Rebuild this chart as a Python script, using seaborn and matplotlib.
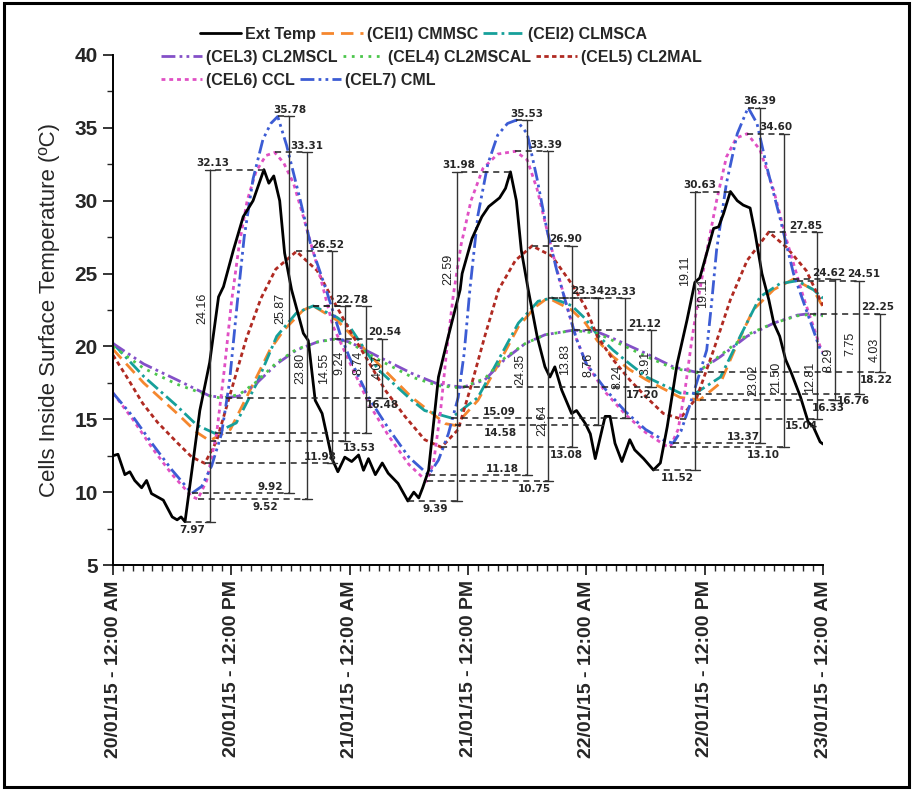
import matplotlib
matplotlib.use("Agg")
import matplotlib.pyplot as plt
from matplotlib.patches import Rectangle
from matplotlib.ticker import MultipleLocator
import numpy as np
import pandas as pd
import seaborn as sns

# (hours after 20/01/15 12:00 AM, temperature ºC)
ext_temp = [(0, 12.5), (0.5, 12.6), (1.2, 11.2), (1.7, 11.4), (2.2, 10.8), (2.9, 10.3), (3.4, 10.8),
            (3.9, 9.9), (5.1, 9.45), (6.0, 8.3), (6.5, 8.1), (6.9, 8.3), (7.3, 7.97), (8.0, 11.5),
            (8.8, 15.6), (9.8, 18.9), (10.7, 23.4), (11.2, 24.1), (12.2, 26.6), (13.2, 28.9), (14.2, 30.0),
            (15.3, 32.13), (15.8, 31.2), (16.3, 31.7), (16.9, 30.0), (17.4, 26.4), (18.1, 23.9), (19.3, 20.9),
            (19.8, 20.4), (20.5, 16.3), (21.2, 15.4), (22.2, 12.3), (22.8, 11.4), (23.5, 12.4), (24.2, 12.1),
            (24.9, 12.55), (25.4, 11.5), (25.9, 12.3), (26.6, 11.2), (27.3, 12.0), (27.9, 11.3), (28.9, 10.6),
            (29.9, 9.39), (30.5, 10.0), (31.0, 9.6), (31.4, 10.3), (32.0, 11.5), (33.0, 17.9), (34.0, 20.7),
            (35.2, 23.9), (35.4, 25.0), (36.4, 27.4), (37.4, 28.9), (38.1, 29.6), (39.2, 30.2), (39.8, 30.85),
            (40.3, 31.98), (40.9, 30.0), (41.4, 26.6), (42.1, 23.9), (43.0, 20.7), (43.8, 18.6), (44.3, 17.9),
            (44.8, 18.6), (45.5, 17.0), (46.5, 15.4), (47.0, 15.6), (47.9, 14.7), (48.4, 14.0), (48.9, 12.3),
            (49.9, 15.2), (50.4, 15.2), (50.9, 13.35), (51.6, 12.1), (52.4, 13.6), (52.9, 12.9), (53.8, 12.3),
            (54.8, 11.52), (55.5, 12.0), (56.2, 14.5), (57.2, 18.8), (58.2, 21.8), (59.0, 24.4), (59.5, 24.7),
            (60.2, 26.4), (60.9, 28.1), (61.4, 28.2), (61.9, 29.1), (62.6, 30.63), (63.3, 30.0), (63.9, 29.7),
            (64.6, 29.5), (65.1, 27.8), (65.8, 25.0), (66.5, 23.2), (67.0, 21.6), (67.6, 20.7), (68.2, 19.1),
            (68.8, 18.15), (69.7, 16.55), (70.5, 14.8), (71.0, 14.5), (71.7, 13.45), (72, 13.3)]

cel1_cmmsc = [(0, 19.8), (3.1, 17.5), (6.5, 15.4), (8.5, 14.1), (9.8, 13.53), (11.9, 14.3), (13.9, 17.0),
              (15.9, 19.75), (17.3, 21.1), (19.3, 22.5), (20.3, 22.78), (22.7, 21.8), (24, 20.9), (26.9, 18.8),
              (30.3, 16.5), (33.7, 14.7), (34.7, 14.58), (37, 16.3), (39.1, 18.8), (41.1, 21.35), (42.8, 22.7),
              (44.1, 23.34), (46.5, 22.5), (47.9, 21.6), (49.1, 20.4), (50.7, 19.3), (52.4, 18.4), (54.1, 17.7),
              (57.5, 16.5), (59.5, 16.33), (61.6, 17.5), (63.3, 20.2), (64.9, 22.5), (67, 23.9), (69, 24.62),
              (71, 23.9), (72, 22.7)]

cel2_clmsca = [(0, 20.2), (3.1, 17.95), (6.5, 15.9), (8.5, 14.6), (10.3, 14.04), (12.5, 14.75), (14.6, 17.5),
               (16.6, 20.7), (18.6, 22.3), (20.3, 22.78), (22.7, 22.0), (24, 21.35), (26.9, 18.4), (30.3, 16.3),
               (31.6, 15.6), (34.3, 15.09), (37, 16.5), (39.1, 19.1), (41.1, 21.6), (43.1, 23.1), (44.5, 23.33),
               (46.5, 22.8), (47.9, 21.9), (49.1, 20.8), (50.7, 19.75), (52.4, 18.8), (54.1, 17.9), (57.5, 16.8),
               (59, 16.76), (61.6, 17.9), (63.6, 20.7), (65.6, 23.4), (67.6, 24.3), (69.4, 24.51), (71, 23.9),
               (72, 23.3)]

cel3_cl2mscl = [(0, 20.2), (3.1, 18.8), (6.5, 17.7), (9.8, 16.6), (11.5, 16.48), (12.8, 16.6), (14.6, 17.5),
                (16.6, 18.8), (18.6, 19.75), (20.7, 20.3), (22.5, 20.54), (24, 20.3), (26.9, 19.3), (30.3, 18.15),
                (33, 17.4), (35.5, 17.20), (37.7, 17.7), (39.7, 19.1), (41.8, 20.2), (43.8, 20.8), (46.7, 21.12),
                (49.1, 21.0), (50.7, 20.55), (54.1, 19.5), (56.8, 18.6), (59.2, 18.22), (61.6, 19.3), (64.3, 20.7),
                (67, 21.6), (69.4, 22.15), (70.7, 22.25), (72, 22.15)]

cel4_cl2mscal = [(0, 20.0), (3.1, 18.5), (6.5, 17.4), (9.8, 16.6), (11.0, 16.45), (12.8, 16.7), (14.6, 17.6),
                 (16.6, 18.9), (18.6, 19.8), (20.7, 20.3), (22.5, 20.5), (24, 20.25), (26.9, 19.1), (30.3, 17.9),
                 (33, 17.3), (35.3, 17.15), (37.7, 17.8), (39.7, 19.2), (41.8, 20.2), (43.8, 20.8), (46.7, 21.1),
                 (49.1, 20.9), (50.7, 20.4), (54.1, 19.3), (56.8, 18.5), (59.2, 18.2), (61.6, 19.4), (64.3, 20.8),
                 (67, 21.6), (69.4, 22.1), (70.7, 22.2), (72, 22.1)]

cel5_cl2mal = [(0, 19.4), (1.4, 17.9), (3, 16.1), (4.5, 14.8), (6.5, 13.4), (8, 12.4), (9.3, 11.98), (10.5, 13.5),
               (12, 17.0), (13.5, 20.5), (15, 23.3), (16.5, 25.3), (18.6, 26.52), (20.7, 25.2), (22.3, 23.2),
               (24, 21.1), (25.6, 19.3), (27.6, 17.0), (29.6, 15.2), (31.6, 13.6), (33.3, 13.08), (35, 14.3),
               (36.4, 17.5), (37.7, 20.7), (39.1, 23.9), (40.8, 25.9), (42.5, 26.90), (44.5, 26.2), (46.5, 24.3),
               (47.9, 22.7), (49.1, 20.7), (50.7, 19.1), (52.4, 17.7), (54.1, 16.5), (55.8, 15.4), (57.5, 15.04),
               (59.2, 16.5), (60.9, 19.75), (62.6, 23.2), (64.3, 25.9), (66.5, 27.85), (68.3, 26.8), (70.3, 25.2),
               (71.7, 23.2), (72, 22.8)]

cel6_ccl = [(0, 16.8), (2, 15.0), (4, 13.0), (6, 11.2), (8, 9.7), (8.6, 9.52), (9.5, 10.8), (10.5, 14.0),
            (11.3, 18.5), (12, 23.0), (12.8, 27.0), (13.6, 30.0), (14.5, 32.0), (15.5, 33.1), (16.4, 33.31),
            (17.3, 32.6), (18.3, 31.2), (19.3, 28.9), (21, 24.8), (22.3, 21.4), (24, 18.9), (26, 16.0), (28, 13.8),
            (30, 11.9), (31.8, 10.75), (32.5, 12.0), (33.2, 15.5), (33.8, 19.5), (34.5, 23.5), (35.3, 27.0),
            (36.3, 30.0), (37.5, 32.2), (39, 33.2), (40.8, 33.39), (42, 32.8), (43, 30.8), (44, 28.0), (45, 25.3),
            (46, 22.8), (47, 20.5), (48, 18.8), (50, 16.8), (52, 15.3), (54, 14.1), (56, 13.2), (56.5, 13.10),
            (57.3, 14.3), (58, 17.0), (58.7, 20.5), (59.4, 23.5), (60.2, 26.5), (61.2, 30.0), (62.2, 33.0),
            (63.2, 34.3), (64.3, 34.60), (65.6, 33.5), (67, 30.7), (68.3, 27.3), (70, 23.4), (71.7, 20.0),
            (72, 19.6)]

cel7_cml = [(0, 16.8), (2, 15.2), (4, 13.3), (6, 11.5), (8, 9.92), (9, 10.4), (10, 11.8), (11, 14.0),
            (11.8, 17.5), (12.6, 23.0), (13.3, 27.5), (14.2, 31.5), (15.2, 34.2), (16, 35.3), (16.7, 35.78),
            (17.6, 33.8), (19, 30.0), (20, 27.1), (21.7, 23.7), (23, 20.9), (24, 19.2), (26, 16.4), (28, 14.3),
            (30, 12.4), (32, 11.18), (33, 12.2), (34, 14.0), (35, 16.5), (35.6, 19.5), (36.2, 24.0), (37, 29.0),
            (38, 32.5), (39, 34.5), (40, 35.3), (40.9, 35.53), (42, 34.6), (43, 31.5), (44, 28.0), (45, 25.2),
            (46, 22.8), (47, 20.5), (48, 18.8), (50, 17.0), (52, 15.5), (54, 14.3), (56, 13.5), (56.8, 13.37),
            (57.6, 14.2), (58.5, 16.0), (59.5, 18.2), (60.2, 19.75), (60.7, 23.0), (61.2, 26.6), (62.2, 31.2),
            (63.3, 34.6), (64.4, 36.39), (65.3, 35.3), (66.3, 32.3), (67.6, 28.9), (69, 25.0), (70.4, 22.3),
            (71.7, 19.8), (72, 19.5)]

series = {"ext": ext_temp, "cel1": cel1_cmmsc, "cel2": cel2_clmsca, "cel3": cel3_cl2mscl,
          "cel4": cel4_cl2mscal, "cel5": cel5_cl2mal, "cel6": cel6_ccl, "cel7": cel7_cml}
names = {"ext": "Ext Temp", "cel1": "(CEl1) CMMSC", "cel2": "(CEl2) CLMSCA", "cel3": "(CEL3) CL2MSCL",
         "cel4": "(CEL4) CL2MSCAL", "cel5": "(CEL5) CL2MAL", "cel6": "(CEL6) CCL", "cel7": "(CEL7) CML"}

# daily amplitudes written next to the brackets (day 1, day 2, day 3)
amplitudes = {"ext": [24.16, 22.59, 19.11], "cel7": [25.87, 24.35, 23.02], "cel6": [23.80, 22.64, 21.50],
              "cel5": [14.55, 13.83, 12.81], "cel1": [9.24, 8.76, 8.29], "cel2": [8.74, 8.24, 7.75],
              "cel3": [4.07, 3.91, 4.03]}

tick_hours = [0, 12, 24, 36, 48, 60, 72]
tick_labels = ["20/01/15 - 12:00 AM", "20/01/15 - 12:00 PM", "21/01/15 - 12:00 AM", "21/01/15 - 12:00 PM",
               "22/01/15 - 12:00 AM", "22/01/15 - 12:00 PM", "23/01/15 - 12:00 AM"]

# styles
colors = {"ext": "black", "cel1": "#f5872e", "cel2": "#16a09a", "cel3": "#8450c8", "cel4": "#4cc64c",
          "cel5": "#b02a22", "cel6": "#e050c4", "cel7": "#3c5cd4"}
dashes = {"ext": None, "cel1": (4.5, 2.5), "cel2": (5, 1.5, 1, 1.5), "cel3": (5, 1.5, 1, 1.5, 1, 1.5),
          "cel4": (1, 2), "cel5": (1.6, 1.2), "cel6": (1.4, 1.4), "cel7": (5, 1.5, 1, 1.5, 1, 1.5)}

# bracket layout: key, day, bracket hour, amp label (hour, ºC), max label hour, min label hour, min label side
annot_layout = [
    ("ext", 0, 9.84, 9.1, 22.6, 10.1, 8.0, "below"),
    ("cel7", 0, 17.85, 16.95, 22.6, 17.9, 15.9, "above"),
    ("cel6", 0, 19.7, 18.95, 18.5, 19.6, 15.4, "below"),
    ("cel5", 0, 22.2, 21.45, 18.5, 21.8, 21.0, "above"),
    ("cel1", 0, 23.5, 23.0, 18.85, 24.2, 25.0, "below"),
    ("cel2", 0, 25.7, 24.85, 18.85, None, None, None),
    ("cel3", 0, 27.25, 26.85, 18.6, 27.5, 27.3, "below"),
    ("ext", 1, 34.86, 34.0, 25.3, 35.1, 32.7, "below"),
    ("cel7", 1, 41.96, 41.3, 18.4, 42.0, 39.5, "above"),
    ("cel6", 1, 44.15, 43.5, 14.95, 43.9, 42.7, "below"),
    ("cel5", 1, 46.5, 45.85, 19.1, 45.9, 46.0, "below"),
    ("cel1", 1, 49.2, 48.2, 18.7, 48.1, 39.3, "below"),
    ("cel2", 1, 51.9, 51.2, 17.9, 51.4, 39.2, "above"),
    ("cel3", 1, 54.6, 54.0, 18.85, 53.9, 53.7, "below"),
    ("ext", 2, 59.0, 58.0, 25.2, 59.5, 57.25, "below"),
    ("cel7", 2, 65.6, 64.9, 17.7, 65.6, 63.9, "above"),
    ("cel6", 2, 68.0, 67.3, 17.9, 67.2, 65.9, "below"),
    ("cel5", 2, 71.4, 70.7, 17.9, 70.2, 69.8, "below"),
    ("cel1", 2, 73.2, 72.5, 19.1, 72.6, 72.5, "below"),
    ("cel2", 2, 75.6, 74.75, 20.2, 76.1, 75.1, "below"),
    ("cel3", 2, 77.8, 77.2, 19.75, 77.5, 77.4, "below"),
]

sns.set_style("ticks")
plt.rcParams["font.family"] = ["Liberation Sans", "DejaVu Sans"]

rows = [(k, h, t) for k, pts in series.items() for h, t in pts]
df = pd.DataFrame(rows, columns=["series", "hour", "temp"])

fig = plt.figure(figsize=(9.13, 7.90), dpi=100)
ax = fig.add_axes([0.1238, 0.2848, 0.7777, 0.6456])

handles = {}
for key in ["cel1", "cel2", "cel3", "cel4", "cel5", "cel6", "cel7", "ext"]:
    n = len(ax.lines)
    sns.lineplot(data=df[df["series"] == key], x="hour", y="temp", ax=ax, color=colors[key],
                 linewidth=2.0, estimator=None, sort=True, legend=False)
    line = ax.lines[n]
    if dashes[key] is not None:
        line.set_dashes(dashes[key])
    handles[key] = line

# min / max brackets
lbl_font = dict(fontsize=7.5, fontweight="bold", family="DejaVu Sans")
for key, day, bx, ax_h, ax_t, max_h, min_h, side in annot_layout:
    arr = np.array(series[key])
    m = (arr[:, 0] >= 24 * day) & (arr[:, 0] <= 24 * day + 24)
    sub = arr[m]
    hmax, vmax = sub[np.argmax(sub[:, 1])]
    hmin, vmin = sub[np.argmin(sub[:, 1])]
    ax.plot([hmax, bx], [vmax, vmax], color="#222222", lw=1.1, ls=(0, (4, 3)), clip_on=False)
    ax.plot([hmin, bx], [vmin, vmin], color="#222222", lw=1.1, ls=(0, (4, 3)), clip_on=False)
    ax.plot([bx, bx], [vmin, vmax], color="#333333", lw=1.0, clip_on=False)
    ax.plot([bx - 0.5, bx + 0.5], [vmax, vmax], color="#333333", lw=1.0, clip_on=False)
    ax.plot([bx - 0.5, bx + 0.5], [vmin, vmin], color="#333333", lw=1.0, clip_on=False)
    ax.text(ax_h, ax_t, f"{amplitudes[key][day]:.2f}", rotation=90, ha="center", va="center",
            fontsize=9, color="#222222")
    if max_h is not None:
        ax.annotate(f"{vmax:.2f}", (max_h, vmax), xytext=(0, 1), textcoords="offset points",
                    ha="center", va="bottom", annotation_clip=False, **lbl_font)
    if min_h is not None:
        off, va = ((0, -2), "top") if side == "below" else ((0, 1), "bottom")
        ax.annotate(f"{vmin:.2f}", (min_h, vmin), xytext=off, textcoords="offset points",
                    ha="center", va=va, annotation_clip=False, **lbl_font)

# duplicated label left in the original drawing
ax.text(59.8, 23.7, f"{amplitudes['ext'][2]:.2f}", rotation=90, ha="center", va="center",
        fontsize=9, color="#222222")

ax.set_xlim(0, 72)
ax.set_ylim(5, 40)
ax.set_xticks(tick_hours)
ax.set_xticklabels(tick_labels, rotation=90, fontsize=14, fontweight="bold")
ax.xaxis.set_minor_locator(MultipleLocator(1))
ax.yaxis.set_major_locator(MultipleLocator(5))
ax.yaxis.set_minor_locator(MultipleLocator(2.5))
for lab in ax.get_yticklabels():
    lab.set_fontsize(15)
    lab.set_fontweight("bold")
ax.tick_params(which="major", direction="out", length=7, width=1.3, pad=4)
ax.tick_params(which="minor", direction="out", length=4, width=1.0)
ax.set_xlabel("")
ax.set_ylabel("Cells Inside Surface Temperature (ºC)", fontsize=16, labelpad=10)
sns.despine(ax=ax)
for sp in ["left", "bottom"]:
    ax.spines[sp].set_linewidth(1.4)
    ax.spines[sp].set_color("black")

legend_rows = [(["ext", "cel1", "cel2"], 0.219, 0.966),
               (["cel3", "cel4", "cel5"], 0.176, 0.937),
               (["cel6", "cel7"], 0.176, 0.908)]
for keys, lx, ly in legend_rows:
    fig.legend([handles[k] for k in keys], [names[k] for k in keys], loc="upper left",
               bbox_to_anchor=(lx, ly), ncol=len(keys), frameon=False,
               prop=dict(weight="bold", size=11.5), handlelength=2.6, handletextpad=0.25,
               columnspacing=0.3, borderpad=0, borderaxespad=0)

fig.add_artist(Rectangle((0.004, 0.004), 0.992, 0.992, transform=fig.transFigure,
                         fill=False, lw=2.2, ec="black"))

fig.savefig("out.png", dpi=100)
